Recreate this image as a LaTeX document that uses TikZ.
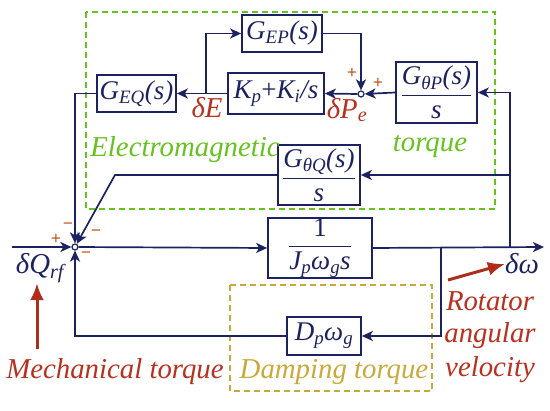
\documentclass[tikz,border=0pt]{standalone}
\usepackage{fontspec}
\setmainfont{Liberation Serif}
\usetikzlibrary{arrows.meta}
\definecolor{navy}{HTML}{1C2260}
\definecolor{emgreen}{HTML}{66C21E}
\definecolor{dampc}{HTML}{C9A93A}
\definecolor{redl}{HTML}{B8301E}
\definecolor{signc}{HTML}{C0561A}
\definecolor{arrshaft}{HTML}{A8301C}
\begin{document}
\begin{tikzpicture}[x=1pt,y=-1pt,
 blk/.style={draw=navy, line width=1.7pt, fill=white, inner sep=0pt, text=navy,
   font=\fontsize{27}{29}\selectfont\itshape},
 sumj/.style={circle, draw=navy, line width=1.2pt, fill=white, minimum size=6pt, inner sep=0pt},
 wire/.style={draw=navy, line width=1.7pt},
 arr/.style={wire, -{Stealth[length=11pt,width=10pt,inset=3pt]}},
 lab/.style={font=\fontsize{28.8}{31}\selectfont\itshape, inner sep=0pt},
 sgn/.style={text=signc, font=\fontsize{18}{18}\selectfont\bfseries, inner sep=0pt},
 bigarr/.style={draw=arrshaft, line width=3pt, -{Latex[length=17pt,width=14pt,fill=red]}},
]
\useasboundingbox (0,0) rectangle (550,411);

% dashed regions
\draw[emgreen, line width=2.6pt, dash pattern=on 6pt off 4pt] (86,12) rectangle (495,209);
\draw[dampc, line width=2.2pt, dash pattern=on 6pt off 4pt] (230,285) rectangle (432,391);

% blocks
\node[blk, minimum width=80pt, minimum height=37pt] (GEP) at (282,33.5) {G\textsubscript{EP}(s)};
\node[blk, minimum width=96pt, minimum height=41pt] (KP) at (276,93.5) {K\textsubscript{p}{\upshape +}K\textsubscript{i}/s};
\node[blk, minimum width=79pt, minimum height=37pt] (GEQ) at (136.5,93.5) {G\textsubscript{EQ}(s)};
\node[blk, minimum width=81pt, minimum height=61pt] (GTP) at (436.5,92.5) {$\displaystyle\frac{\mbox{G\textsubscript{θP}(s)}}{\mbox{s}}$};
\node[blk, minimum width=82pt, minimum height=60pt] (GTQ) at (319,175) {$\displaystyle\frac{\mbox{G\textsubscript{θQ}(s)}}{\mbox{s}}$};
\node[blk, minimum width=104pt, minimum height=60pt] (J) at (320,248) {$\displaystyle\frac{\mbox{\upshape 1}}{\mbox{J\textsubscript{p}ω\textsubscript{g}s}}$};
\node[blk, minimum width=74pt, minimum height=38pt] (D) at (324,336) {D\textsubscript{p}ω\textsubscript{g}};

% summing junctions
\node[sumj] (S1) at (75,247) {};
\node[sumj] (S2) at (361,94) {};

% coordinates
\coordinate (in) at (12,247);
\coordinate (out) at (544,247);
\coordinate (b1) at (510,247);
\coordinate (b2) at (441,247);
\coordinate (b3) at (206,93.5);
\coordinate (k1) at (115,175);

% connectors
\draw[arr] (in) -- (S1);
\draw[arr] (S1) -- (J.west);
\draw[arr] (J.east) -- (out);
\draw[wire] (b1) -- (510,175);
\draw[arr] (b1) |- (GTP.east);
\draw[arr] (510,175) -- (GTQ.east);
\draw[arr] (b2) |- (D.east);
\draw[arr] (D.west) -| (S1.south);
\draw[arr] (GTP.west) -- (S2.east);
\draw[arr] (GEP.east) -| (S2.north);
\draw[arr] (S2.west) -- (KP.east);
\draw[arr] (KP.west) -- (GEQ.east);
\draw[arr] (b3) |- (GEP.west);
\draw[arr] (GEQ.west) -| (S1.north);
\draw[arr] (GTQ.west) -- (k1) -- (S1);

% signs
\node[sgn] (p1) at (56,239) {+};
\node[sgn] (m1) at (68,226) {−};
\node[sgn] (m2) at (96,233) {−};
\node[sgn] (m3) at (86,255) {−};
\node[sgn] (p2) at (352,73) {+};
\node[sgn] (p3) at (378,83) {+};

% signal labels
\node[lab, text=redl] (dE) at (207,108) {δE};
\node[lab, text=redl] (dP) at (347,110) {δP\textsubscript{e}};
\node[lab, text=navy] (dQ) at (40,268) {δQ\textsubscript{rf}};
\node[lab, text=navy] (dw) at (522,264) {δω};

% region labels
\node[lab, text=emgreen] (em1) at (185,150) {Electromagnetic};
\node[lab, text=emgreen] (em2) at (430,146) {torque};
\node[lab, text=redl] (mech) at (115,372) {Mechanical torque};
\node[lab, text=dampc] (damp) at (334,372) {Damping torque};
\node[lab, text=redl] (rot1) at (490,301) {Rotator};
\node[lab, text=redl] (rot2) at (490,336) {angular};
\node[lab, text=redl] (rot3) at (490,370) {velocity};

% red indicator arrows
\coordinate (ma) at (37,349);
\coordinate (ra) at (448,280);
\draw[bigarr] (ma) -- (dQ.south -| ma);
\draw[bigarr] (ra) -- (dw.west);
\end{tikzpicture}
\end{document}
